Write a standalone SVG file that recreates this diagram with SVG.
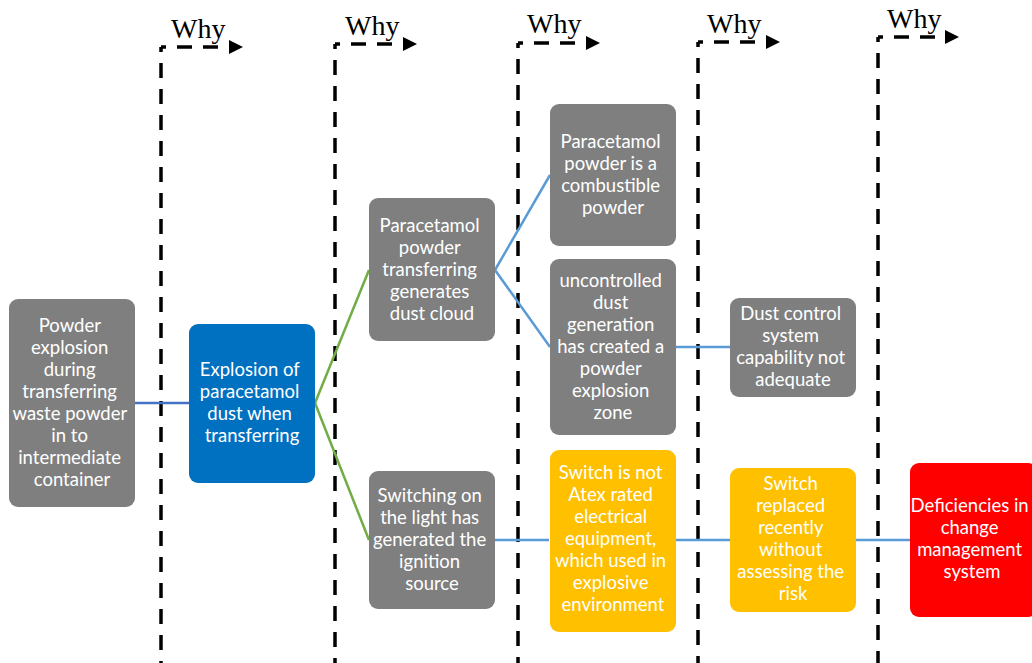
<svg xmlns="http://www.w3.org/2000/svg" width="1032" height="663" viewBox="0 0 1032 663">
  <defs>
    <marker id="tri" viewBox="0 0 10 10" refX="0" refY="5" markerWidth="14" markerHeight="14" markerUnits="userSpaceOnUse" orient="auto">
      <path d="M0,0 L10,5 L0,10 z" fill="#000"/>
    </marker>
    <style>
      .why { fill: none; stroke: #000; stroke-width: 3.5; stroke-dasharray: 15 11; stroke-dashoffset: 10; }
      .why-lbl { font-family: "Liberation Serif", "Times New Roman", serif; font-size: 28px; fill: #000; }
      .box { stroke: none; }
      .gray { fill: #7f7f7f; }
      .blue { fill: #0070c0; }
      .amber { fill: #ffc000; }
      .red { fill: #ff0000; }
      .lbl { font-family: Lato, "Open Sans", "Liberation Sans", sans-serif; font-size: 18.5px; fill: #fff; text-anchor: middle; }
      .c-blue { stroke: #4472c4; stroke-width: 2.5; fill: none; }
      .c-green { stroke: #70ad47; stroke-width: 2.5; fill: none; }
      .c-sky { stroke: #5b9bd5; stroke-width: 2.5; fill: none; }
    </style>
  </defs>
  <rect width="1032" height="663" fill="#fff"/>

  <!-- "Why" step markers: a dashed riser and a dashed arrow to the next column -->
  <g id="why-markers">
    <path class="why" d="M161,47 V663"/>
    <path class="why" d="M161,47 H229" marker-end="url(#tri)"/>
    <text class="why-lbl" x="171" y="38">Why</text>
    <path class="why" d="M335,44 V663"/>
    <path class="why" d="M335,44 H403" marker-end="url(#tri)"/>
    <text class="why-lbl" x="345" y="35">Why</text>
    <path class="why" d="M518,43 V663"/>
    <path class="why" d="M518,43 H586" marker-end="url(#tri)"/>
    <text class="why-lbl" x="527" y="33">Why</text>
    <path class="why" d="M698,42 V663"/>
    <path class="why" d="M698,42 H766" marker-end="url(#tri)"/>
    <text class="why-lbl" x="707" y="33">Why</text>
    <path class="why" d="M878,37 V663"/>
    <path class="why" d="M878,37 H945" marker-end="url(#tri)"/>
    <text class="why-lbl" x="887" y="28">Why</text>
  </g>

  <!-- links between causes -->
  <g id="connectors">
    <line class="c-blue" x1="135" y1="403" x2="189" y2="403"/>
    <line class="c-green" x1="315" y1="403" x2="369" y2="270"/>
    <line class="c-green" x1="315" y1="403" x2="369" y2="540"/>
    <line class="c-sky" x1="495" y1="270" x2="550" y2="175"/>
    <line class="c-sky" x1="495" y1="270" x2="550" y2="347"/>
    <line class="c-sky" x1="676" y1="347" x2="730" y2="347"/>
    <line class="c-sky" x1="495" y1="540" x2="549" y2="540"/>
    <line class="c-sky" x1="676" y1="540" x2="730" y2="540"/>
    <line class="c-sky" x1="856" y1="540" x2="910" y2="540"/>
  </g>

  <g id="n-event">
    <rect class="box gray" x="9" y="299" width="126" height="208" rx="9"/>
    <text class="lbl">
      <tspan x="72" y="332">Powder</tspan>
      <tspan x="72" y="354">explosion</tspan>
      <tspan x="72" y="376">during</tspan>
      <tspan x="72" y="398">transferring</tspan>
      <tspan x="72" y="420">waste powder</tspan>
      <tspan x="72" y="442">in to</tspan>
      <tspan x="72" y="464">intermediate</tspan>
      <tspan x="72" y="486">container</tspan>
    </text>
  </g>

  <g id="n-explosion">
    <rect class="box blue" x="189" y="324" width="126" height="159" rx="9"/>
    <text class="lbl">
      <tspan x="252" y="376">Explosion of</tspan>
      <tspan x="252" y="398">paracetamol</tspan>
      <tspan x="252" y="420">dust when</tspan>
      <tspan x="252" y="442">transferring</tspan>
    </text>
  </g>

  <g id="n-dust-cloud">
    <rect class="box gray" x="369" y="198" width="126" height="143" rx="9"/>
    <text class="lbl">
      <tspan x="432" y="232">Paracetamol</tspan>
      <tspan x="432" y="254">powder</tspan>
      <tspan x="432" y="276">transferring</tspan>
      <tspan x="432" y="298">generates</tspan>
      <tspan x="432" y="320">dust cloud</tspan>
    </text>
  </g>

  <g id="n-ignition">
    <rect class="box gray" x="369" y="471" width="126" height="138" rx="9"/>
    <text class="lbl">
      <tspan x="432" y="502">Switching on</tspan>
      <tspan x="432" y="524">the light has</tspan>
      <tspan x="432" y="546">generated the</tspan>
      <tspan x="432" y="568">ignition</tspan>
      <tspan x="432" y="590">source</tspan>
    </text>
  </g>

  <g id="n-combustible">
    <rect class="box gray" x="550" y="104" width="126" height="142" rx="9"/>
    <text class="lbl">
      <tspan x="613" y="148">Paracetamol</tspan>
      <tspan x="613" y="170">powder is a</tspan>
      <tspan x="613" y="192">combustible</tspan>
      <tspan x="613" y="214">powder</tspan>
    </text>
  </g>

  <g id="n-uncontrolled">
    <rect class="box gray" x="550" y="259" width="126" height="176" rx="9"/>
    <text class="lbl">
      <tspan x="613" y="287">uncontrolled</tspan>
      <tspan x="613" y="309">dust</tspan>
      <tspan x="613" y="331">generation</tspan>
      <tspan x="613" y="353">has created a</tspan>
      <tspan x="613" y="375">powder</tspan>
      <tspan x="613" y="397">explosion</tspan>
      <tspan x="613" y="419">zone</tspan>
    </text>
  </g>

  <g id="n-atex">
    <rect class="box amber" x="550" y="450" width="126" height="182" rx="9"/>
    <text class="lbl">
      <tspan x="613" y="479">Switch is not</tspan>
      <tspan x="613" y="501">Atex rated</tspan>
      <tspan x="613" y="523">electrical</tspan>
      <tspan x="613" y="545">equipment,</tspan>
      <tspan x="613" y="567">which used in</tspan>
      <tspan x="613" y="589">explosive</tspan>
      <tspan x="613" y="611">environment</tspan>
    </text>
  </g>

  <g id="n-dust-control">
    <rect class="box gray" x="730" y="298" width="126" height="99" rx="9"/>
    <text class="lbl">
      <tspan x="793" y="320">Dust control</tspan>
      <tspan x="793" y="342">system</tspan>
      <tspan x="793" y="364">capability not</tspan>
      <tspan x="793" y="386">adequate</tspan>
    </text>
  </g>

  <g id="n-switch-replaced">
    <rect class="box amber" x="730" y="468" width="126" height="144" rx="9"/>
    <text class="lbl">
      <tspan x="793" y="490">Switch</tspan>
      <tspan x="793" y="512">replaced</tspan>
      <tspan x="793" y="534">recently</tspan>
      <tspan x="793" y="556">without</tspan>
      <tspan x="793" y="578">assessing the</tspan>
      <tspan x="793" y="600">risk</tspan>
    </text>
  </g>

  <g id="n-change-mgmt">
    <rect class="box red" x="910" y="463" width="127" height="154" rx="9"/>
    <text class="lbl">
      <tspan x="972" y="512">Deficiencies in</tspan>
      <tspan x="972" y="534">change</tspan>
      <tspan x="972" y="556">management</tspan>
      <tspan x="972" y="578">system</tspan>
    </text>
  </g>
</svg>
